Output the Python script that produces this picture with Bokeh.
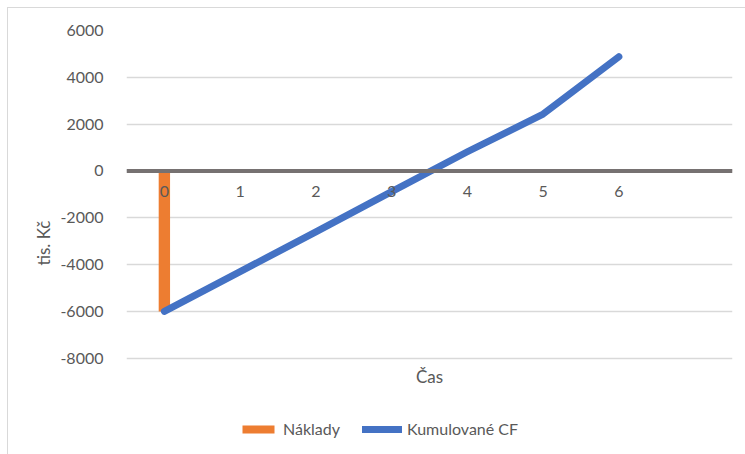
from bokeh.plotting import figure
from bokeh.models import (Span, Legend, LegendItem, FixedTicker, Range1d, ColumnDataSource,
                          Label, Title, PrintfTickFormatter)
from bokeh.core.properties import value
from bokeh.embed import file_html
from bokeh.resources import INLINE

# --- data ---
periods = [0, 1, 2, 3, 4, 5, 6]
period_labels = ["0", "1", "2", "3", "4", "5", "6"]
naklady_x = [0]
naklady = [-6000]
kumulovane_cf = [-6000, -4300, -2600, -880, 820, 2430, 4880]
y_ticks = [-8000, -6000, -4000, -2000, 0, 2000, 4000, 6000]

FONT = "Lato"
GRAY = "#595959"

# layout: plot area of the reference spans 6000..-8000 over 327 px,
# the frame is extended below to hold the axis title and the legend
Y_TOP, Y_BOT = 6000, -8000
PX = (Y_TOP - Y_BOT) / 327.0      # value units per pixel
EXTRA_PX = 97
y_min = Y_BOT - EXTRA_PX * PX

p = figure(width=738, height=447, output_backend="svg", toolbar_location=None,
           x_range=Range1d(-0.5, 7.5), y_range=Range1d(y_min, Y_TOP),
           min_border_left=118, min_border_right=14, min_border_top=22, min_border_bottom=0)
p.margin = (7, 0, 0, 7)
p.styles = {"border-top": "1px solid #D9D9D9", "border-left": "1px solid #D9D9D9"}
p.outline_line_color = None
p.background_fill_color = "white"
p.border_fill_color = "white"

# grid
p.xgrid.grid_line_color = None
p.ygrid.ticker = FixedTicker(ticks=y_ticks)
p.ygrid.grid_line_color = "#D9D9D9"
p.ygrid.grid_line_width = 1.5

# y axis
p.yaxis.ticker = FixedTicker(ticks=y_ticks)
p.yaxis.formatter = PrintfTickFormatter(format="%d")
p.yaxis.axis_line_color = None
p.yaxis.major_tick_line_color = None
p.yaxis.minor_tick_line_color = None
p.yaxis.major_label_standoff = 17
p.yaxis.major_label_text_font = FONT
p.yaxis.major_label_text_font_size = "16px"
p.yaxis.major_label_text_color = GRAY

# y axis title
ytitle = Title(text="tis. Kč", align="center", text_font=FONT, text_font_size="17px",
               text_font_style="normal", text_color=GRAY, offset=48, standoff=8)
p.add_layout(ytitle, "left")

p.xaxis.visible = False

# zero line
p.add_layout(Span(location=0, dimension="width", line_color="#767171", line_width=4))

# bars and line
bar = p.vbar(x=naklady_x, top=naklady, bottom=0, width=0.15,
             fill_color="#ED7D31", line_color=None)
line = p.line(x=periods, y=kumulovane_cf, line_color="#4472C4", line_width=7,
              line_cap="round", line_join="round")

# x tick labels at zero line
lab_src = ColumnDataSource(dict(x=periods, y=[0] * len(periods), t=period_labels))
p.text(x="x", y="y", text="t", source=lab_src, text_font=value(FONT),
       text_font_size="16px", text_color=GRAY, text_align="center",
       text_baseline="top", y_offset=15)

# x axis title
p.add_layout(Label(x=3.5, y=Y_BOT - 18 * PX, text="Čas", text_font=FONT,
                   text_font_size="17px", text_color=GRAY, text_align="center",
                   text_baseline="middle"))

legend = Legend(items=[LegendItem(label="Náklady", renderers=[bar]),
                       LegendItem(label="Kumulované CF", renderers=[line])],
                orientation="horizontal", location=(112, 17),
                label_text_font=FONT, label_text_font_size="16px", label_text_color=GRAY,
                glyph_width=40, glyph_height=10, label_standoff=5, spacing=22,
                border_line_color=None, background_fill_alpha=0, padding=0, margin=0)
p.add_layout(legend, "center")

open("out.html", "w").write(file_html(p, INLINE))
